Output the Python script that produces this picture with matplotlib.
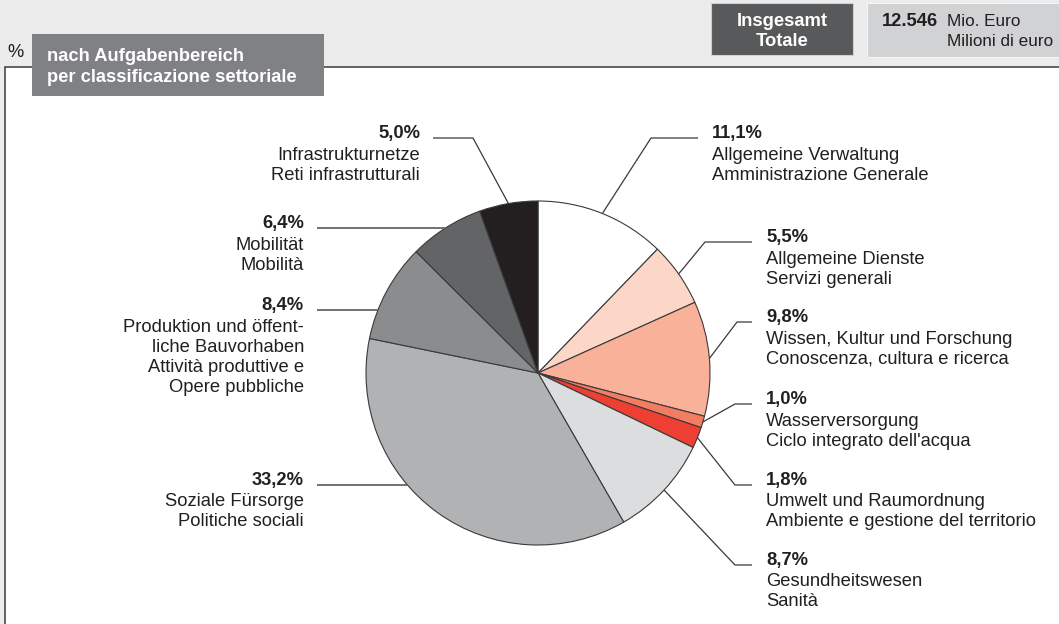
import numpy as np
import matplotlib.pyplot as plt
from matplotlib.patches import Rectangle

plt.rcParams['font.family'] = ['Liberation Sans', 'DejaVu Sans']

# shares by sector (%), clockwise from the top
shares = [11.1, 5.5, 9.8, 1.0, 1.8, 8.7, 33.2, 8.4, 6.4, 5.0]
pct_labels = ['11,1%', '5,5%', '9,8%', '1,0%', '1,8%', '8,7%', '33,2%', '8,4%', '6,4%', '5,0%']
desc_labels = [
    ['Allgemeine Verwaltung', 'Amministrazione Generale'],
    ['Allgemeine Dienste', 'Servizi generali'],
    ['Wissen, Kultur und Forschung', 'Conoscenza, cultura e ricerca'],
    ['Wasserversorgung', "Ciclo integrato dell'acqua"],
    ['Umwelt und Raumordnung', 'Ambiente e gestione del territorio'],
    ['Gesundheitswesen', 'Sanità'],
    ['Soziale Fürsorge', 'Politiche sociali'],
    ['Produktion und öffent-', 'liche Bauvorhaben', 'Attività produttive e', 'Opere pubbliche'],
    ['Mobilität', 'Mobilità'],
    ['Infrastrukturnetze', 'Reti infrastrutturali'],
]
colors = ['#ffffff', '#fcd6c6', '#f9b199', '#f37c62', '#ee3f33',
          '#dcdddf', '#b1b2b4', '#8b8c8e', '#636466', '#231f20']
total_value = '12.546'

# label placement: (side, text x, baseline y, kink x or None, line end x)
layout = [
    ('left', 712, 138, 651, 698),
    ('left', 766, 242, 705, 752),
    ('left', 766, 322, 737, 752),
    ('left', 766, 404, 735, 752),
    ('left', 766, 485, 735, 752),
    ('left', 766, 565, 735, 752),
    ('right', 304, 485, None, 317),
    ('right', 304, 310, None, 317),
    ('right', 304, 228, None, 317),
    ('right', 420, 138, 473, 433),
]
line_offsets = [0, 21.5, 41.5, 62, 82]
txt = '#231f20'
fs = 13.2

fig = plt.figure(figsize=(10.59, 6.24), dpi=100, facecolor='#ececec')
ax = fig.add_axes([0, 0, 1, 1])
ax.set_facecolor('#ececec')

# white frame
ax.add_patch(Rectangle((5, 67), 1200, 700, facecolor='white', edgecolor='#3a3a3a', lw=1.1, zorder=0))

cx, cy, r = 538, 373, 172
wedges, _ = ax.pie(shares, colors=colors, startangle=-90, counterclock=True,
                   radius=r, center=(cx, cy), frame=True,
                   wedgeprops=dict(edgecolor='#3a3a3a', linewidth=0.8))
for w in wedges:
    w.set_zorder(2)

ax.set_xlim(0, 1059)
ax.set_ylim(624, 0)
ax.set_aspect('equal')
ax.axis('off')

# leader lines and labels
for w, pct, desc, (ha, tx, by, kx, ex) in zip(wedges, pct_labels, desc_labels, layout):
    if kx is None:
        sx = cx - np.sqrt(r ** 2 - (by - cy) ** 2)
        xs, ys = [sx, ex], [by, by]
        lc = '#666666'
        lw = 1.3
    else:
        mid = np.deg2rad((w.theta1 + w.theta2) / 2)
        sx, sy = cx + r * np.cos(mid), cy + r * np.sin(mid)
        xs, ys = [sx, kx, ex], [sy, by, by]
        lc = '#3a3a3a'
        lw = 0.9
    ax.plot(xs, ys, color=lc, lw=lw, zorder=3, solid_capstyle='butt')
    ax.text(tx, by, pct, ha=ha, va='baseline', fontsize=fs, fontweight='bold', color=txt)
    for k, line in enumerate(desc):
        ax.text(tx, by + line_offsets[k + 1], line, ha=ha, va='baseline', fontsize=fs, color=txt)

# header
ax.text(7, 57, '%', ha='left', va='baseline', fontsize=fs, color=txt)
ax.add_patch(Rectangle((32, 34), 292, 62, facecolor='#808184', edgecolor='none', zorder=4))
ax.text(47, 61, 'nach Aufgabenbereich', ha='left', va='baseline', fontsize=fs,
        fontweight='bold', color='white', zorder=5)
ax.text(47, 81.5, 'per classificazione settoriale', ha='left', va='baseline', fontsize=fs,
        fontweight='bold', color='white', zorder=5)

ax.add_patch(Rectangle((711, 3), 142, 52, facecolor='#58595b', edgecolor='#cfcfcf', lw=0.8, zorder=4))
ax.text(782.5, 26, 'Insgesamt', ha='center', va='baseline', fontsize=fs, fontweight='bold',
        color='white', zorder=5)
ax.text(782.5, 46, 'Totale', ha='center', va='baseline', fontsize=fs, fontweight='bold',
        color='white', zorder=5)

ax.add_patch(Rectangle((867, 3), 220, 54, facecolor='#d1d2d4', edgecolor='#f5f5f5', lw=0.8, zorder=4))
ax.text(882, 26, total_value, ha='left', va='baseline', fontsize=fs, fontweight='bold',
        color=txt, zorder=5)
ax.text(947, 26, 'Mio. Euro', ha='left', va='baseline', fontsize=12.3, color=txt, zorder=5)
ax.text(947, 46, 'Milioni di euro', ha='left', va='baseline', fontsize=12.3, color=txt, zorder=5)

fig.savefig('out.png', dpi=100, facecolor=fig.get_facecolor())
